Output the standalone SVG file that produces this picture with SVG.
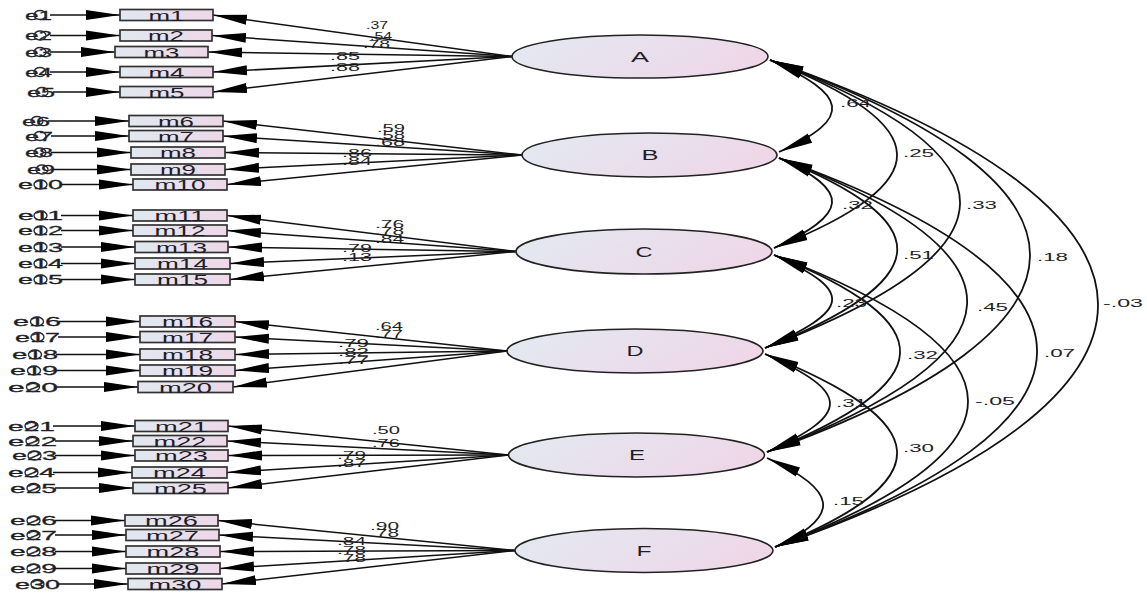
<svg xmlns="http://www.w3.org/2000/svg" width="1147" height="593" viewBox="0 0 1147 593">
<style>
text{font-family:"Liberation Sans",Arial,sans-serif;fill:#1e1e28}
.box{stroke:#333;stroke-width:1.7;fill:url(#gb)}
.lat{stroke:#222;stroke-width:1.6;fill:url(#gl)}
.bt{font-size:14.5px;text-anchor:middle}
.et{font-size:13.5px;stroke:#1e1e28;stroke-width:0.3}
.ec{fill:none;stroke:#2a2a35;stroke-width:1.4}
.ft{font-size:14px;text-anchor:middle}
.lb{font-size:11px}
.cv{font-size:11.5px}
.ln{stroke:#111;stroke-width:1.5;fill:none;marker-end:url(#ah)}
.arc{stroke:#111;stroke-width:1.8;fill:none;marker-start:url(#ah);marker-end:url(#ah)}
</style>
<defs>
<linearGradient id="gb" x1="0" y1="0" x2="1" y2="0"><stop offset="0" stop-color="#e1e8f0"/><stop offset="1" stop-color="#eed8e8"/></linearGradient>
<linearGradient id="gl" x1="0" y1="0" x2="1" y2="0.3"><stop offset="0" stop-color="#e2eaf2"/><stop offset="1" stop-color="#eed8e8"/></linearGradient>
<marker id="ah" markerUnits="userSpaceOnUse" markerWidth="34" markerHeight="11" viewBox="0 0 34 11" refX="34" refY="5.5" orient="auto-start-reverse"><path d="M0,0.5 L34,5.5 L0,10.5 z" fill="#000"/></marker>
</defs>
<rect width="1147" height="593" fill="#fff"/>

<g id="connectors">
<path class="ln" d="M50,15 H120"/><path class="ln" d="M50,35.5 H120"/><path class="ln" d="M50,52 H115"/><path class="ln" d="M50,72 H120"/><path class="ln" d="M53,92 H120"/>
<path class="ln" d="M48,121 H129"/><path class="ln" d="M51,136 H129"/><path class="ln" d="M51,152.5 H131"/><path class="ln" d="M53,169.5 H131"/><path class="ln" d="M61,184.5 H133"/>
<path class="ln" d="M61,215.5 H133"/><path class="ln" d="M61,230.5 H133"/><path class="ln" d="M61,247 H135"/><path class="ln" d="M61,263.5 H135"/><path class="ln" d="M61,279.5 H135"/>
<path class="ln" d="M59,321.5 H140"/><path class="ln" d="M58,337 H140"/><path class="ln" d="M56,354.5 H140"/><path class="ln" d="M56,370.5 H140"/><path class="ln" d="M56,387 H138"/>
<path class="ln" d="M53,426 H135"/><path class="ln" d="M55,441 H133"/><path class="ln" d="M55,455.5 H135"/><path class="ln" d="M53,472.5 H132"/><path class="ln" d="M55,488 H133"/>
<path class="ln" d="M55,520.5 H125"/><path class="ln" d="M55,535 H126"/><path class="ln" d="M55,551.5 H126"/><path class="ln" d="M55,568.5 H126"/><path class="ln" d="M58,584 H128"/>
<path class="ln" d="M512,56.5 L213,15"/><path class="ln" d="M512,56.5 L212,35.5"/><path class="ln" d="M512,56.5 L208,52"/><path class="ln" d="M512,56.5 L213,72"/><path class="ln" d="M512,56.5 L213,92"/>
<path class="ln" d="M522,155 L223,121"/><path class="ln" d="M522,155 L223,136"/><path class="ln" d="M522,155 L225,152.5"/><path class="ln" d="M522,155 L225,169.5"/><path class="ln" d="M522,155 L227,184.5"/>
<path class="ln" d="M516,251.5 L227,215.5"/><path class="ln" d="M516,251.5 L227,230.5"/><path class="ln" d="M516,251.5 L228,247"/><path class="ln" d="M516,251.5 L230,263.5"/><path class="ln" d="M516,251.5 L230,279.5"/>
<path class="ln" d="M507,351 L235,321.5"/><path class="ln" d="M507,351 L235,337"/><path class="ln" d="M507,351 L235,354.5"/><path class="ln" d="M507,351 L235,370.5"/><path class="ln" d="M507,351 L233,387"/>
<path class="ln" d="M508.5,455 L228,426"/><path class="ln" d="M508.5,455 L227,441"/><path class="ln" d="M508.5,455 L228,455.5"/><path class="ln" d="M508.5,455 L227,472.5"/><path class="ln" d="M508.5,455 L228,488"/>
<path class="ln" d="M515,550.5 L218,520.5"/><path class="ln" d="M515,550.5 L219,535"/><path class="ln" d="M515,550.5 L220,551.5"/><path class="ln" d="M515,550.5 L220,568.5"/><path class="ln" d="M515,550.5 L222,584"/>
<path class="arc" d="M770,60 C846.7,94.5 855.7,117.5 779,152"/>
<path class="arc" d="M770,60 C936.7,126.7 940.7,181.3 774,248"/>
<path class="arc" d="M770,60 C1026.7,157.5 1021.7,250.5 765,348"/>
<path class="arc" d="M770,60 C1118.7,185.5 1115.7,326.5 767,452"/>
<path class="arc" d="M770,60 C1204,212 1209,395 775,547"/>
<path class="arc" d="M779,158 C853,191.3 848,214.7 774,248"/>
<path class="arc" d="M779,158 C945.7,224.7 931.7,281.3 765,348"/>
<path class="arc" d="M779,158 C1037.7,256.3 1025.7,353.7 767,452"/>
<path class="arc" d="M779,158 C1125.7,282.8 1121.7,422.2 775,547"/>
<path class="arc" d="M774,255 C857.3,292.5 848.3,310.5 765,348"/>
<path class="arc" d="M774,255 C946.7,324 939.7,383 767,452"/>
<path class="arc" d="M774,255 C1032,353 1033,449 775,547"/>
<path class="arc" d="M765,354 C850.3,392.4 852.3,413.6 767,452"/>
<path class="arc" d="M765,354 C934.3,421.7 944.3,479.3 775,547"/>
<path class="arc" d="M767,458 C836.3,489.2 844.3,515.8 775,547"/>
</g>

<g id="labels">
<text class="lb" x="366" y="29" textLength="22" lengthAdjust="spacingAndGlyphs">.37</text>
<text class="lb" x="370" y="40" textLength="22" lengthAdjust="spacingAndGlyphs">.54</text>
<text class="lb" x="363" y="48" textLength="27" lengthAdjust="spacingAndGlyphs">.78</text>
<text class="lb" x="330" y="60" textLength="30" lengthAdjust="spacingAndGlyphs">.85</text>
<text class="lb" x="330" y="71" textLength="30" lengthAdjust="spacingAndGlyphs">.88</text>
<text class="lb" x="377" y="132" textLength="28" lengthAdjust="spacingAndGlyphs">.59</text>
<text class="lb" x="377" y="139" textLength="28" lengthAdjust="spacingAndGlyphs">.58</text>
<text class="lb" x="375" y="146" textLength="30" lengthAdjust="spacingAndGlyphs">.68</text>
<text class="lb" x="342" y="157" textLength="30" lengthAdjust="spacingAndGlyphs">.86</text>
<text class="lb" x="342" y="165" textLength="30" lengthAdjust="spacingAndGlyphs">.84</text>
<text class="lb" x="375" y="228" textLength="29" lengthAdjust="spacingAndGlyphs">.76</text>
<text class="lb" x="375" y="235" textLength="29" lengthAdjust="spacingAndGlyphs">.78</text>
<text class="lb" x="375" y="243" textLength="29" lengthAdjust="spacingAndGlyphs">.84</text>
<text class="lb" x="342" y="252" textLength="30" lengthAdjust="spacingAndGlyphs">.79</text>
<text class="lb" x="342" y="261" textLength="30" lengthAdjust="spacingAndGlyphs">.13</text>
<text class="lb" x="375" y="330" textLength="28" lengthAdjust="spacingAndGlyphs">.64</text>
<text class="lb" x="375" y="338" textLength="28" lengthAdjust="spacingAndGlyphs">.77</text>
<text class="lb" x="338" y="347" textLength="31" lengthAdjust="spacingAndGlyphs">.79</text>
<text class="lb" x="338" y="356" textLength="31" lengthAdjust="spacingAndGlyphs">.82</text>
<text class="lb" x="338" y="364" textLength="31" lengthAdjust="spacingAndGlyphs">.77</text>
<text class="lb" x="372" y="434" textLength="28" lengthAdjust="spacingAndGlyphs">.50</text>
<text class="lb" x="372" y="447" textLength="28" lengthAdjust="spacingAndGlyphs">.76</text>
<text class="lb" x="337" y="459" textLength="29" lengthAdjust="spacingAndGlyphs">.79</text>
<text class="lb" x="337" y="467" textLength="29" lengthAdjust="spacingAndGlyphs">.87</text>
<text class="lb" x="370" y="530" textLength="29" lengthAdjust="spacingAndGlyphs">.90</text>
<text class="lb" x="370" y="537" textLength="29" lengthAdjust="spacingAndGlyphs">.78</text>
<text class="lb" x="337" y="545" textLength="29" lengthAdjust="spacingAndGlyphs">.84</text>
<text class="lb" x="337" y="554" textLength="29" lengthAdjust="spacingAndGlyphs">.78</text>
<text class="lb" x="337" y="562" textLength="29" lengthAdjust="spacingAndGlyphs">.78</text>
<text class="cv" x="840" y="107" textLength="31" lengthAdjust="spacingAndGlyphs">.64</text>
<text class="cv" x="903" y="157" textLength="31" lengthAdjust="spacingAndGlyphs">.25</text>
<text class="cv" x="966" y="209" textLength="31" lengthAdjust="spacingAndGlyphs">.33</text>
<text class="cv" x="1037" y="261" textLength="31" lengthAdjust="spacingAndGlyphs">.18</text>
<text class="cv" x="1103" y="307" textLength="40" lengthAdjust="spacingAndGlyphs">-.03</text>
<text class="cv" x="842" y="209" textLength="31" lengthAdjust="spacingAndGlyphs">.32</text>
<text class="cv" x="903" y="259" textLength="31" lengthAdjust="spacingAndGlyphs">.51</text>
<text class="cv" x="977" y="311" textLength="31" lengthAdjust="spacingAndGlyphs">.45</text>
<text class="cv" x="836" y="307" textLength="31" lengthAdjust="spacingAndGlyphs">.23</text>
<text class="cv" x="907" y="359" textLength="31" lengthAdjust="spacingAndGlyphs">.32</text>
<text class="cv" x="1044" y="357" textLength="31" lengthAdjust="spacingAndGlyphs">.07</text>
<text class="cv" x="975" y="405" textLength="40" lengthAdjust="spacingAndGlyphs">-.05</text>
<text class="cv" x="836" y="407" textLength="31" lengthAdjust="spacingAndGlyphs">.31</text>
<text class="cv" x="903" y="452" textLength="31" lengthAdjust="spacingAndGlyphs">.30</text>
<text class="cv" x="833" y="505" textLength="31" lengthAdjust="spacingAndGlyphs">.15</text>
</g>

<g id="A"><ellipse class="lat" cx="640" cy="56.5" rx="128" ry="21.5"/><text class="ft" x="640" y="61.5" textLength="18" lengthAdjust="spacingAndGlyphs">A</text></g>
<g id="B"><ellipse class="lat" cx="649.5" cy="155" rx="127.5" ry="22"/><text class="ft" x="650" y="160" textLength="17" lengthAdjust="spacingAndGlyphs">B</text></g>
<g id="C"><ellipse class="lat" cx="644" cy="251.5" rx="128" ry="22.5"/><text class="ft" x="644" y="256.5" textLength="17" lengthAdjust="spacingAndGlyphs">C</text></g>
<g id="D"><ellipse class="lat" cx="635" cy="351" rx="128" ry="22"/><text class="ft" x="635" y="356" textLength="17" lengthAdjust="spacingAndGlyphs">D</text></g>
<g id="E"><ellipse class="lat" cx="636.5" cy="455" rx="128" ry="22"/><text class="ft" x="637" y="460" textLength="16" lengthAdjust="spacingAndGlyphs">E</text></g>
<g id="F"><ellipse class="lat" cx="644" cy="550.5" rx="129" ry="22"/><text class="ft" x="644" y="555.5" textLength="15" lengthAdjust="spacingAndGlyphs">F</text></g>

<g id="m1"><rect class="box" x="120" y="9.5" width="93" height="11"/><text class="bt" x="166.5" y="20.5" textLength="36" lengthAdjust="spacingAndGlyphs">m1</text></g>
<g id="m2"><rect class="box" x="120" y="30" width="92" height="11"/><text class="bt" x="166" y="41" textLength="36" lengthAdjust="spacingAndGlyphs">m2</text></g>
<g id="m3"><rect class="box" x="115" y="46.5" width="93" height="11"/><text class="bt" x="161.5" y="57.5" textLength="36" lengthAdjust="spacingAndGlyphs">m3</text></g>
<g id="m4"><rect class="box" x="120" y="66.5" width="93" height="11"/><text class="bt" x="166.5" y="77.5" textLength="36" lengthAdjust="spacingAndGlyphs">m4</text></g>
<g id="m5"><rect class="box" x="120" y="86.5" width="93" height="11"/><text class="bt" x="166.5" y="97.5" textLength="36" lengthAdjust="spacingAndGlyphs">m5</text></g>
<g id="m6"><rect class="box" x="129" y="115.5" width="94" height="11"/><text class="bt" x="176" y="126.5" textLength="36" lengthAdjust="spacingAndGlyphs">m6</text></g>
<g id="m7"><rect class="box" x="129" y="130.5" width="94" height="11"/><text class="bt" x="176" y="141.5" textLength="36" lengthAdjust="spacingAndGlyphs">m7</text></g>
<g id="m8"><rect class="box" x="131" y="147" width="94" height="11"/><text class="bt" x="178" y="158" textLength="36" lengthAdjust="spacingAndGlyphs">m8</text></g>
<g id="m9"><rect class="box" x="131" y="164" width="94" height="11"/><text class="bt" x="178" y="175" textLength="36" lengthAdjust="spacingAndGlyphs">m9</text></g>
<g id="m10"><rect class="box" x="133" y="179" width="94" height="11"/><text class="bt" x="180" y="190" textLength="51" lengthAdjust="spacingAndGlyphs">m10</text></g>
<g id="m11"><rect class="box" x="133" y="210" width="94" height="11"/><text class="bt" x="180" y="221" textLength="51" lengthAdjust="spacingAndGlyphs">m11</text></g>
<g id="m12"><rect class="box" x="133" y="225" width="94" height="11"/><text class="bt" x="180" y="236" textLength="51" lengthAdjust="spacingAndGlyphs">m12</text></g>
<g id="m13"><rect class="box" x="135" y="241.5" width="93" height="11"/><text class="bt" x="181.5" y="252.5" textLength="51" lengthAdjust="spacingAndGlyphs">m13</text></g>
<g id="m14"><rect class="box" x="135" y="258" width="95" height="11"/><text class="bt" x="182.5" y="269" textLength="51" lengthAdjust="spacingAndGlyphs">m14</text></g>
<g id="m15"><rect class="box" x="135" y="274" width="95" height="11"/><text class="bt" x="182.5" y="285" textLength="51" lengthAdjust="spacingAndGlyphs">m15</text></g>
<g id="m16"><rect class="box" x="140" y="316" width="95" height="11"/><text class="bt" x="187.5" y="327" textLength="51" lengthAdjust="spacingAndGlyphs">m16</text></g>
<g id="m17"><rect class="box" x="140" y="331.5" width="95" height="11"/><text class="bt" x="187.5" y="342.5" textLength="51" lengthAdjust="spacingAndGlyphs">m17</text></g>
<g id="m18"><rect class="box" x="140" y="349" width="95" height="11"/><text class="bt" x="187.5" y="360" textLength="51" lengthAdjust="spacingAndGlyphs">m18</text></g>
<g id="m19"><rect class="box" x="140" y="365" width="95" height="11"/><text class="bt" x="187.5" y="376" textLength="51" lengthAdjust="spacingAndGlyphs">m19</text></g>
<g id="m20"><rect class="box" x="138" y="381.5" width="95" height="11"/><text class="bt" x="185.5" y="392.5" textLength="53" lengthAdjust="spacingAndGlyphs">m20</text></g>
<g id="m21"><rect class="box" x="135" y="420.5" width="93" height="11"/><text class="bt" x="181.5" y="431.5" textLength="53" lengthAdjust="spacingAndGlyphs">m21</text></g>
<g id="m22"><rect class="box" x="133" y="435.5" width="94" height="11"/><text class="bt" x="180" y="446.5" textLength="53" lengthAdjust="spacingAndGlyphs">m22</text></g>
<g id="m23"><rect class="box" x="135" y="450" width="93" height="11"/><text class="bt" x="181.5" y="461" textLength="53" lengthAdjust="spacingAndGlyphs">m23</text></g>
<g id="m24"><rect class="box" x="132" y="467" width="95" height="11"/><text class="bt" x="179.5" y="478" textLength="53" lengthAdjust="spacingAndGlyphs">m24</text></g>
<g id="m25"><rect class="box" x="133" y="482.5" width="95" height="11"/><text class="bt" x="180.5" y="493.5" textLength="53" lengthAdjust="spacingAndGlyphs">m25</text></g>
<g id="m26"><rect class="box" x="125" y="515" width="93" height="11"/><text class="bt" x="171.5" y="526" textLength="53" lengthAdjust="spacingAndGlyphs">m26</text></g>
<g id="m27"><rect class="box" x="126" y="529.5" width="93" height="11"/><text class="bt" x="172.5" y="540.5" textLength="53" lengthAdjust="spacingAndGlyphs">m27</text></g>
<g id="m28"><rect class="box" x="126" y="546" width="94" height="11"/><text class="bt" x="173" y="557" textLength="53" lengthAdjust="spacingAndGlyphs">m28</text></g>
<g id="m29"><rect class="box" x="126" y="563" width="94" height="11"/><text class="bt" x="173" y="574" textLength="53" lengthAdjust="spacingAndGlyphs">m29</text></g>
<g id="m30"><rect class="box" x="128" y="578.5" width="94" height="11"/><text class="bt" x="175" y="589.5" textLength="53" lengthAdjust="spacingAndGlyphs">m30</text></g>

<g id="e1"><text class="et" x="25" y="19.5" textLength="27" lengthAdjust="spacingAndGlyphs">e1</text><ellipse class="ec" cx="40" cy="15" rx="6" ry="4.5"/></g>
<g id="e2"><text class="et" x="25" y="40" textLength="27" lengthAdjust="spacingAndGlyphs">e2</text><ellipse class="ec" cx="40" cy="35.5" rx="6" ry="4.5"/></g>
<g id="e3"><text class="et" x="25" y="56.5" textLength="27" lengthAdjust="spacingAndGlyphs">e3</text><ellipse class="ec" cx="40" cy="52" rx="6" ry="4.5"/></g>
<g id="e4"><text class="et" x="25" y="76.5" textLength="27" lengthAdjust="spacingAndGlyphs">e4</text><ellipse class="ec" cx="40" cy="72" rx="6" ry="4.5"/></g>
<g id="e5"><text class="et" x="27" y="96.5" textLength="28" lengthAdjust="spacingAndGlyphs">e5</text><ellipse class="ec" cx="42" cy="92" rx="6" ry="4.5"/></g>
<g id="e6"><text class="et" x="22" y="125.5" textLength="28" lengthAdjust="spacingAndGlyphs">e6</text><ellipse class="ec" cx="37" cy="121" rx="6" ry="4.5"/></g>
<g id="e7"><text class="et" x="25" y="140.5" textLength="28" lengthAdjust="spacingAndGlyphs">e7</text><ellipse class="ec" cx="40" cy="136" rx="6" ry="4.5"/></g>
<g id="e8"><text class="et" x="25" y="157" textLength="28" lengthAdjust="spacingAndGlyphs">e8</text><ellipse class="ec" cx="40" cy="152.5" rx="6" ry="4.5"/></g>
<g id="e9"><text class="et" x="27" y="174" textLength="28" lengthAdjust="spacingAndGlyphs">e9</text><ellipse class="ec" cx="42" cy="169.5" rx="6" ry="4.5"/></g>
<g id="e10"><text class="et" x="18" y="189" textLength="45" lengthAdjust="spacingAndGlyphs">e10</text><ellipse class="ec" cx="40.5" cy="184.5" rx="6.5" ry="4.5"/></g>
<g id="e11"><text class="et" x="18" y="220" textLength="45" lengthAdjust="spacingAndGlyphs">e11</text><ellipse class="ec" cx="40.5" cy="215.5" rx="6.5" ry="4.5"/></g>
<g id="e12"><text class="et" x="18" y="235" textLength="45" lengthAdjust="spacingAndGlyphs">e12</text><ellipse class="ec" cx="40.5" cy="230.5" rx="6.5" ry="4.5"/></g>
<g id="e13"><text class="et" x="18" y="251.5" textLength="45" lengthAdjust="spacingAndGlyphs">e13</text><ellipse class="ec" cx="40.5" cy="247" rx="6.5" ry="4.5"/></g>
<g id="e14"><text class="et" x="18" y="268" textLength="45" lengthAdjust="spacingAndGlyphs">e14</text><ellipse class="ec" cx="40.5" cy="263.5" rx="6.5" ry="4.5"/></g>
<g id="e15"><text class="et" x="18" y="284" textLength="45" lengthAdjust="spacingAndGlyphs">e15</text><ellipse class="ec" cx="40.5" cy="279.5" rx="6.5" ry="4.5"/></g>
<g id="e16"><text class="et" x="13" y="326" textLength="48" lengthAdjust="spacingAndGlyphs">e16</text><ellipse class="ec" cx="37" cy="321.5" rx="6.5" ry="4.5"/></g>
<g id="e17"><text class="et" x="15" y="341.5" textLength="45" lengthAdjust="spacingAndGlyphs">e17</text><ellipse class="ec" cx="37.5" cy="337" rx="6.5" ry="4.5"/></g>
<g id="e18"><text class="et" x="12" y="359" textLength="46" lengthAdjust="spacingAndGlyphs">e18</text><ellipse class="ec" cx="35" cy="354.5" rx="6.5" ry="4.5"/></g>
<g id="e19"><text class="et" x="10" y="375" textLength="48" lengthAdjust="spacingAndGlyphs">e19</text><ellipse class="ec" cx="34" cy="370.5" rx="6.5" ry="4.5"/></g>
<g id="e20"><text class="et" x="8" y="391.5" textLength="50" lengthAdjust="spacingAndGlyphs">e20</text><ellipse class="ec" cx="33" cy="387" rx="6.5" ry="4.5"/></g>
<g id="e21"><text class="et" x="8" y="430.5" textLength="47" lengthAdjust="spacingAndGlyphs">e21</text><ellipse class="ec" cx="31.5" cy="426" rx="6.5" ry="4.5"/></g>
<g id="e22"><text class="et" x="8" y="445.5" textLength="49" lengthAdjust="spacingAndGlyphs">e22</text><ellipse class="ec" cx="32.5" cy="441" rx="6.5" ry="4.5"/></g>
<g id="e23"><text class="et" x="12" y="460" textLength="45" lengthAdjust="spacingAndGlyphs">e23</text><ellipse class="ec" cx="34.5" cy="455.5" rx="6.5" ry="4.5"/></g>
<g id="e24"><text class="et" x="8" y="477" textLength="47" lengthAdjust="spacingAndGlyphs">e24</text><ellipse class="ec" cx="31.5" cy="472.5" rx="6.5" ry="4.5"/></g>
<g id="e25"><text class="et" x="10" y="492.5" textLength="47" lengthAdjust="spacingAndGlyphs">e25</text><ellipse class="ec" cx="33.5" cy="488" rx="6.5" ry="4.5"/></g>
<g id="e26"><text class="et" x="10" y="525" textLength="47" lengthAdjust="spacingAndGlyphs">e26</text><ellipse class="ec" cx="33.5" cy="520.5" rx="6.5" ry="4.5"/></g>
<g id="e27"><text class="et" x="10" y="539.5" textLength="47" lengthAdjust="spacingAndGlyphs">e27</text><ellipse class="ec" cx="33.5" cy="535" rx="6.5" ry="4.5"/></g>
<g id="e28"><text class="et" x="10" y="556" textLength="47" lengthAdjust="spacingAndGlyphs">e28</text><ellipse class="ec" cx="33.5" cy="551.5" rx="6.5" ry="4.5"/></g>
<g id="e29"><text class="et" x="10" y="573" textLength="47" lengthAdjust="spacingAndGlyphs">e29</text><ellipse class="ec" cx="33.5" cy="568.5" rx="6.5" ry="4.5"/></g>
<g id="e30"><text class="et" x="15" y="588.5" textLength="45" lengthAdjust="spacingAndGlyphs">e30</text><ellipse class="ec" cx="37.5" cy="584" rx="6.5" ry="4.5"/></g>
</svg>
